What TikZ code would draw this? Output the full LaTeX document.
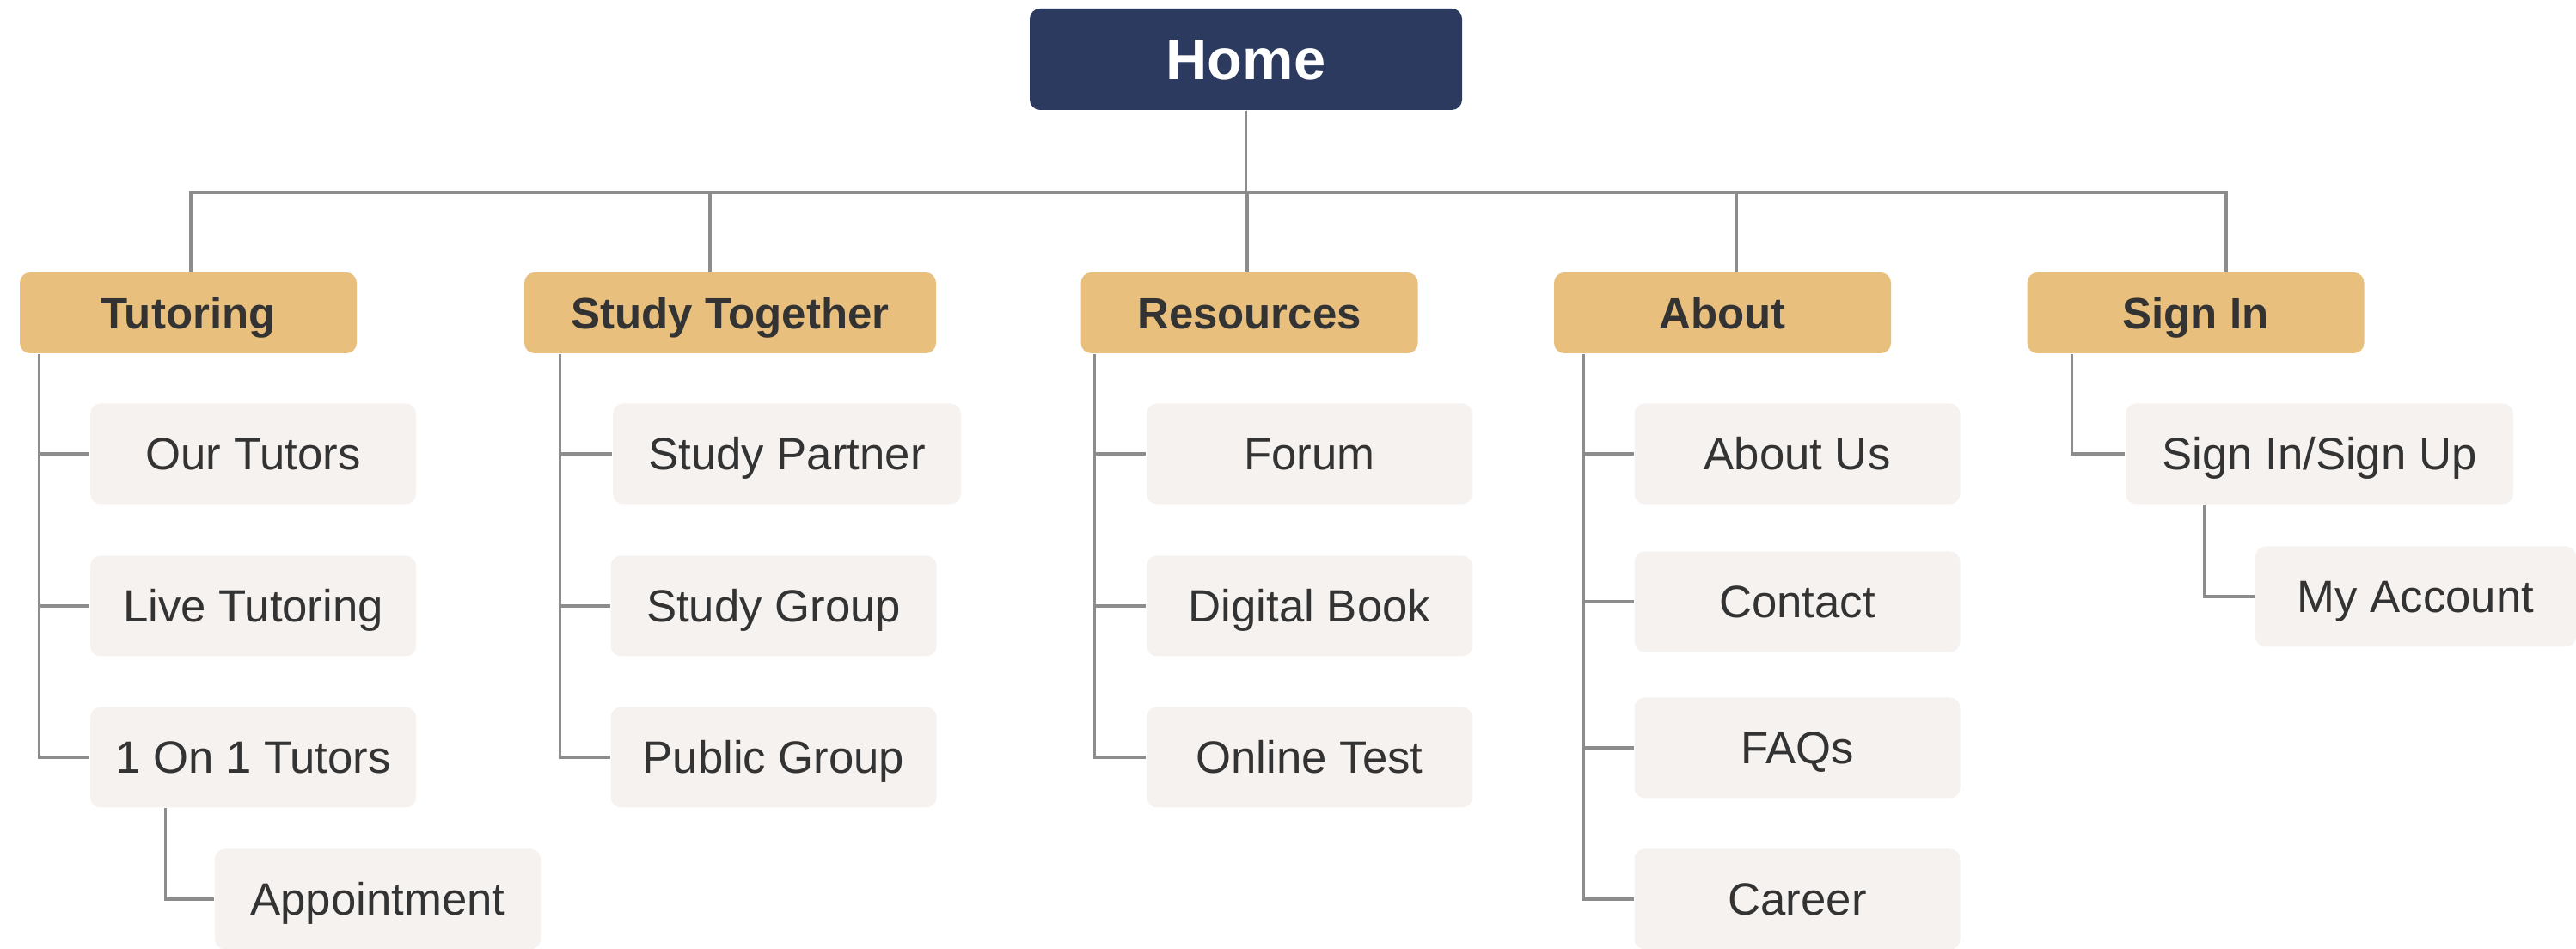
\documentclass[tikz,border=0pt]{standalone}
\usepackage{fontspec}
\setmainfont{Liberation Sans}
\usepackage{xcolor}
\definecolor{navyblue}{HTML}{2B3A5E}
\definecolor{sandorange}{HTML}{E9BF7D}
\definecolor{palegray}{HTML}{F6F2F0}
\definecolor{darktext}{HTML}{333333}
\definecolor{linegray}{HTML}{8C8C8C}

\begin{document}
\begin{tikzpicture}[
	homenode/.style={shape=rectangle, rounded corners=0.12cm, fill=navyblue, text=white, minimum width=5.03cm, minimum height=1.18cm, text height=13.6pt, text depth=0pt, font=\fontsize{19}{22}\selectfont\bfseries},
	topnode/.style={shape=rectangle, rounded corners=0.12cm, fill=sandorange, text=darktext, minimum width=3.92cm, minimum height=0.94cm, text height=10.4pt, text depth=0pt, font=\fontsize{14.5}{17}\selectfont\bfseries},
	subnode/.style={shape=rectangle, rounded corners=0.12cm, fill=palegray, text=darktext, minimum width=3.79cm, minimum height=1.17cm, text height=10.7pt, text depth=0pt, font=\fontsize{15}{18}\selectfont},
	link/.style={draw=linegray, line width=0.9pt},
]
\useasboundingbox (0,0) rectangle (29.97,-11.04);

\node[homenode] (home) at (14.495,-0.69) {Home};
\node[topnode] (tut) at (2.19,-3.64) {Tutoring};
\node[topnode, minimum width=4.79cm] (stu) at (8.495,-3.64) {Study Together};
\node[topnode] (res) at (14.535,-3.64) {Resources};
\node[topnode] (abt) at (20.04,-3.64) {About};
\node[topnode] (sgn) at (25.545,-3.64) {Sign In};

\node[subnode] (ourtut) at (2.945,-5.28) {Our Tutors};
\node[subnode] (livetut) at (2.945,-7.05) {Live Tutoring};
\node[subnode] (oneon) at (2.945,-8.81) {1 On 1 Tutors};
\node[subnode] (appt) at (4.395,-10.46) {Appointment};
\node[subnode, minimum width=4.05cm] (partner) at (9.155,-5.28) {Study Partner};
\node[subnode] (group) at (9.0,-7.05) {Study Group};
\node[subnode] (public) at (9.0,-8.81) {Public Group};
\node[subnode] (forum) at (15.235,-5.28) {Forum};
\node[subnode] (book) at (15.235,-7.05) {Digital Book};
\node[subnode] (test) at (15.235,-8.81) {Online Test};
\node[subnode] (aboutus) at (20.91,-5.28) {About Us};
\node[subnode] (contact) at (20.91,-7.00) {Contact};
\node[subnode] (faq) at (20.91,-8.70) {FAQs};
\node[subnode] (career) at (20.91,-10.46) {Career};
\node[subnode, minimum width=4.51cm] (signup) at (26.985,-5.28) {Sign In/Sign Up};
\node[subnode, minimum width=3.73cm] (account) at (28.105,-6.94) {My Account};

\coordinate (bus) at (0,-2.24);
\foreach \n/\d in {tut/0.03, stu/-0.235, res/-0.025, abt/0.16, sgn/0.355}
	\draw[link] (home.south) |- ([xshift=\d cm]\n.north |- bus) -- ([xshift=\d cm]\n.north);

\foreach \c in {ourtut, livetut, oneon}
	\draw[link] ([xshift=0.23cm]tut.south west) |- (\c.west);
\foreach \c in {partner, group, public}
	\draw[link] ([xshift=0.42cm]stu.south west) |- (\c.west);
\foreach \c in {forum, book, test}
	\draw[link] ([xshift=0.17cm]res.south west) |- (\c.west);
\foreach \c in {aboutus, contact, faq, career}
	\draw[link] ([xshift=0.35cm]abt.south west) |- (\c.west);
\draw[link] ([xshift=0.53cm]sgn.south west) |- (signup.west);
\draw[link] ([xshift=0.88cm]oneon.south west) |- (appt.west);
\draw[link] ([xshift=0.92cm]signup.south west) |- (account.west);
\end{tikzpicture}
\end{document}
